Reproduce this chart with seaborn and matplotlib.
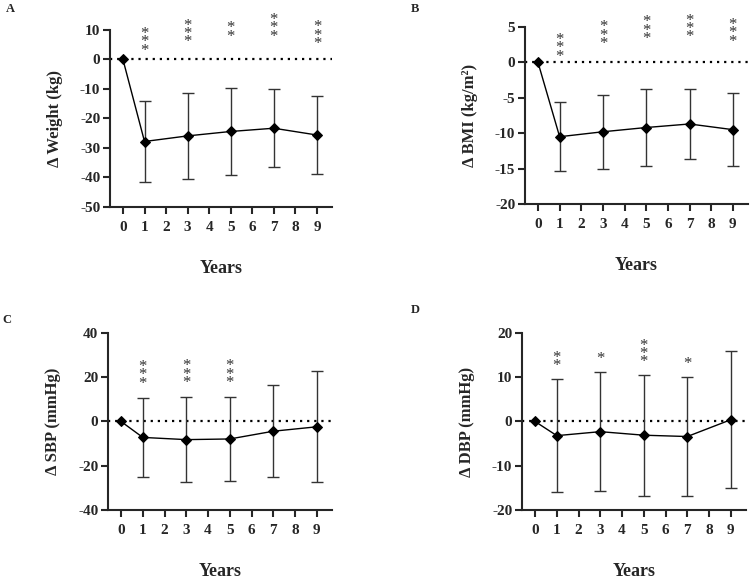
import numpy as np
import matplotlib
matplotlib.use('Agg')
import matplotlib.pyplot as plt
import seaborn as sns

years = [0, 1, 3, 5, 7, 9]

# Panel A - weight (kg)
weight_mean = [0, -27.8, -25.9, -24.4, -23.3, -25.6]
weight_sd = [0, 13.6, 14.5, 14.7, 13.3, 13.3]
weight_stars = ['', '***', '***', '**', '***', '***']
weight_star_top = [0, 11.4, 14.2, 13.3, 16.1, 13.6]

# Panel B - BMI
bmi_mean = [0, -10.5, -9.8, -9.2, -8.7, -9.5]
bmi_sd = [0, 4.9, 5.2, 5.4, 5.0, 5.2]
bmi_stars = ['', '***', '***', '***', '***', '***']
bmi_star_top = [0, 4.3, 6.1, 6.8, 7.0, 6.4]

# Panel C - SBP
sbp_mean = [0, -7.2, -8.2, -7.9, -4.4, -2.4]
sbp_sd = [0, 18.0, 19.2, 19.1, 20.8, 25.0]
sbp_stars = ['', '***', '***', '***', '', '']
sbp_star_top = [0, 28.2, 28.5, 28.5, 0, 0]

# Panel D - DBP
dbp_mean = [0, -3.2, -2.3, -3.1, -3.4, 0.4]
dbp_sd = [0, 12.8, 13.5, 13.7, 13.5, 15.5]
dbp_stars = ['', '**', '*', '***', '*', '']
dbp_star_top = [0, 16.2, 16.0, 18.9, 14.7, 0]

sns.set_style('ticks')
plt.rcParams['font.family'] = ['Liberation Serif', 'DejaVu Serif']
plt.rcParams['font.weight'] = 'bold'
plt.rcParams['axes.labelweight'] = 'bold'
plt.rcParams['axes.unicode_minus'] = False

fig = plt.figure(figsize=(7.5, 5.79), dpi=100)

panels = [
    ('A', [0.1467, 0.6425, 0.296, 0.3057], weight_mean, weight_sd, weight_stars, weight_star_top,
     'Δ Weight (kg)', (-50, 10), np.arange(-50, 11, 10)),
    ('B', [0.700, 0.6477, 0.2973, 0.3057], bmi_mean, bmi_sd, bmi_stars, bmi_star_top,
     'Δ BMI (kg/m²)', (-20, 5), np.arange(-20, 6, 5)),
    ('C', [0.144, 0.1192, 0.2987, 0.3057], sbp_mean, sbp_sd, sbp_stars, sbp_star_top,
     'Δ SBP (mmHg)', (-40, 40), np.arange(-40, 41, 20)),
    ('D', [0.696, 0.1192, 0.2987, 0.3057], dbp_mean, dbp_sd, dbp_stars, dbp_star_top,
     'Δ DBP (mmHg)', (-20, 20), np.arange(-20, 21, 10)),
]

letter_pos = {'A': (0.008, 0.995), 'B': (0.548, 0.995), 'C': (0.003, 0.458), 'D': (0.548, 0.475)}

for letter, rect, mean, sd, stars, star_top, ylab, ylim, yticks in panels:
    ax = fig.add_axes(rect)
    ax.axhline(0, color='black', lw=1.6, linestyle=(0, (1, 2.2)), zorder=1)
    ax.errorbar(years[1:], mean[1:], yerr=sd[1:], fmt='none', ecolor='#333333',
                elinewidth=1, capsize=4, capthick=1, zorder=2)
    sns.lineplot(x=years, y=mean, marker='D', color='black', markersize=5,
                 markeredgecolor='black', linewidth=1, ax=ax, zorder=3)
    # significance stars stacked vertically
    for yr, s, top in zip(years, stars, star_top):
        if s:
            ax.text(yr, top, '\n'.join(s), ha='center', va='top', fontsize=12,
                    fontweight='normal', color='#333333', linespacing=0.36, clip_on=False)
    ax.set_xlim(-0.6, 9.7)
    ax.set_xticks(range(10))
    ax.set_ylim(*ylim)
    ax.set_yticks(yticks)
    sns.despine(ax=ax)
    for sp in ['left', 'bottom']:
        ax.spines[sp].set_linewidth(1.5)
    ax.tick_params(direction='out', length=5, width=1.5, labelsize=11)
    ax.tick_params(axis='x', pad=5)
    ax.tick_params(axis='y', pad=2)
    for t in ax.get_xticklabels() + ax.get_yticklabels():
        t.set_fontweight('bold')
    ax.set_xlabel('Years', fontsize=13, labelpad=19)
    ax.set_ylabel(ylab, fontsize=12, labelpad=12)
    fig.text(letter_pos[letter][0], letter_pos[letter][1], letter, fontsize=9,
             fontweight='bold', va='top', ha='left')

fig.savefig('out.png', dpi=100)
